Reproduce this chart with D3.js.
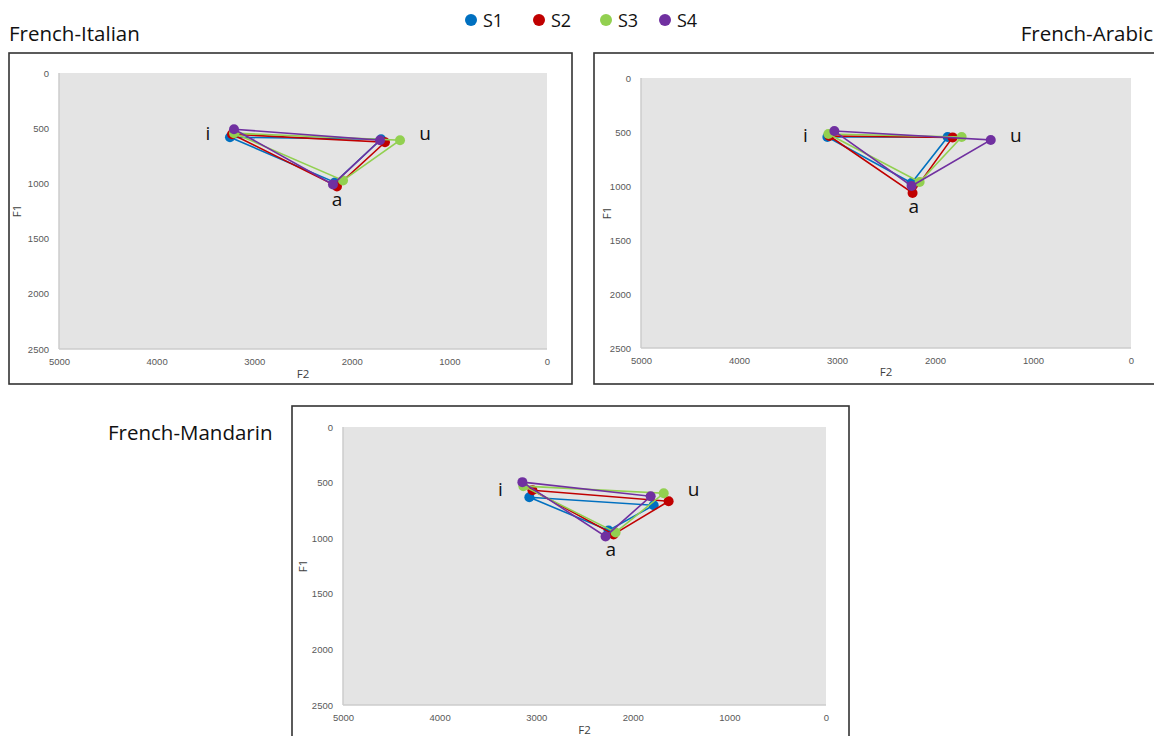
<!DOCTYPE html>
<html>
<head>
<meta charset="utf-8">
<script src="https://cdn.jsdelivr.net/npm/d3@7"></script>
<style>
  body { margin: 0; background: #fff; }
  svg { font-family: "Open Sans", "Liberation Sans", sans-serif; }
  .tick text { fill: #595959; font-size: 9.5px; }
</style>
</head>
<body>
<div id="chart"></div>
<script>
// speakers and vowels
var speakers = ["S1", "S2", "S3", "S4"];
var colors = ["#0070c0", "#c00000", "#92d050", "#7030a0"];
var vowels = ["i", "u", "a"];

var f2Ticks = [5000, 4000, 3000, 2000, 1000, 0];
var f1Ticks = [0, 500, 1000, 1500, 2000, 2500];

// F2 / F1 values per speaker, order i, u, a
var italianF2 = [[3248, 1700, 2172], [3227, 1660, 2152], [3207, 1506, 2090], [3207, 1711, 2193]];
var italianF1 = [[582, 600, 991], [555, 627, 1027], [545, 609, 973], [509, 609, 1009]];

var arabicF2 = [[3098, 1871, 2239], [3078, 1820, 2229], [3088, 1728, 2157], [3027, 1431, 2239]];
var arabicF1 = [[546, 546, 972], [537, 550, 1065], [519, 546, 963], [491, 574, 1000]];

var mandarinF2 = [[3071, 1784, 2251], [3039, 1629, 2199], [3133, 1680, 2178], [3143, 1815, 2282]];
var mandarinF1 = [[632, 704, 930], [569, 668, 966], [532, 596, 948], [496, 623, 984]];

var width = 1154, height = 736;

var svg = d3.select("#chart")
    .append("svg")
    .attr("width", width)
    .attr("height", height);

// legend
var legend = svg.append("g").attr("class", "legend");
var legendX = [471, 539, 606, 665];
speakers.forEach(function(s, k) {
    legend.append("circle")
        .attr("cx", legendX[k])
        .attr("cy", 20)
        .attr("r", 6)
        .attr("fill", colors[k]);
    legend.append("text")
        .attr("x", legendX[k] + 12)
        .attr("y", 27)
        .attr("font-size", 18)
        .attr("fill", "#111")
        .text(s);
});

var panels = [
    { title: "French-Italian", f2: italianF2, f1: italianF1,
      box: [9, 53, 572, 384], plot: [59, 547, 73, 349],
      titleX: 9, titleY: 41, anchor: "start", f1LabX: 21, f2LabY: 378 },
    { title: "French-Arabic", f2: arabicF2, f1: arabicF1,
      box: [594, 53, 1160, 384], plot: [641, 1131, 78, 348],
      titleX: 1153, titleY: 41, anchor: "end", f1LabX: 611, f2LabY: 376 },
    { title: "French-Mandarin", f2: mandarinF2, f1: mandarinF1,
      box: [292, 406, 849, 760], plot: [343, 826, 427, 705],
      titleX: 108, titleY: 440, anchor: "start", f1LabX: 307, f2LabY: 734 }
];

panels.forEach(drawPanel);

function drawPanel(p) {
    var g = svg.append("g");

    g.append("text")
        .attr("x", p.titleX)
        .attr("y", p.titleY)
        .attr("text-anchor", p.anchor)
        .attr("font-size", 20.5)
        .attr("fill", "#111")
        .text(p.title);

    g.append("rect")
        .attr("x", p.box[0])
        .attr("y", p.box[1])
        .attr("width", p.box[2] - p.box[0])
        .attr("height", p.box[3] - p.box[1])
        .attr("fill", "#fff")
        .attr("stroke", "#333")
        .attr("stroke-width", 1.6);

    var xScale = d3.scaleLinear().domain([5000, 0]).range([p.plot[0], p.plot[1]]);
    var yScale = d3.scaleLinear().domain([0, 2500]).range([p.plot[2], p.plot[3]]);

    g.append("rect")
        .attr("x", p.plot[0])
        .attr("y", p.plot[2])
        .attr("width", p.plot[1] - p.plot[0])
        .attr("height", p.plot[3] - p.plot[2])
        .attr("fill", "#e4e4e4");

    // axis lines
    g.append("line")
        .attr("x1", p.plot[0]).attr("x2", p.plot[0])
        .attr("y1", p.plot[2]).attr("y2", p.plot[3])
        .attr("stroke", "#cdcdcd").attr("stroke-width", 1.5);
    g.append("line")
        .attr("x1", p.plot[0]).attr("x2", p.plot[1])
        .attr("y1", p.plot[3]).attr("y2", p.plot[3])
        .attr("stroke", "#cdcdcd").attr("stroke-width", 1.5);

    var xAxis = d3.axisBottom(xScale).tickValues(f2Ticks).tickFormat(d3.format("d"))
        .tickSize(0).tickPadding(9);
    var yAxis = d3.axisLeft(yScale).tickValues(f1Ticks).tickFormat(d3.format("d"))
        .tickSize(0).tickPadding(10);

    g.append("g")
        .attr("transform", "translate(0," + p.plot[3] + ")")
        .call(xAxis)
        .call(function(a) { a.select(".domain").remove(); });
    g.append("g")
        .attr("transform", "translate(" + p.plot[0] + ",0)")
        .call(yAxis)
        .call(function(a) { a.select(".domain").remove(); });

    g.append("text")
        .attr("x", xScale(2500))
        .attr("y", p.f2LabY)
        .attr("text-anchor", "middle")
        .attr("font-size", 11.5)
        .attr("fill", "#404040")
        .text("F2");
    g.append("text")
        .attr("transform", "translate(" + p.f1LabX + "," + yScale(1250) + ")rotate(-90)")
        .attr("text-anchor", "middle")
        .attr("font-size", 11.5)
        .attr("fill", "#404040")
        .text("F1");

    var line = d3.line()
        .x(function(d) { return xScale(d[0]); })
        .y(function(d) { return yScale(d[1]); });

    speakers.forEach(function(s, k) {
        var pts = vowels.map(function(v, j) { return [p.f2[k][j], p.f1[k][j]]; });
        g.append("path")
            .attr("d", line(pts.concat([pts[0]])))
            .attr("fill", "none")
            .attr("stroke", colors[k])
            .attr("stroke-width", 1.6);
        g.selectAll(null)
            .data(pts)
            .enter()
            .append("circle")
            .attr("cx", function(d) { return xScale(d[0]); })
            .attr("cy", function(d) { return yScale(d[1]); })
            .attr("r", 5)
            .attr("fill", colors[k]);
    });

    // vowel labels placed from the extreme points
    var iX = d3.min(p.f2, function(r) { return xScale(r[0]); });
    var iY = d3.mean(p.f1, function(r) { return yScale(r[0]); });
    var uX = d3.max(p.f2, function(r) { return xScale(r[1]); });
    var aX = d3.mean(p.f2, function(r) { return xScale(r[2]); });
    var aY = d3.max(p.f1, function(r) { return yScale(r[2]); });

    var labels = [[iX - 22, iY + 7, "i"], [uX + 25, iY + 7, "u"], [aX, aY + 20, "a"]];
    g.selectAll(null)
        .data(labels)
        .enter()
        .append("text")
        .attr("x", function(d) { return d[0]; })
        .attr("y", function(d) { return d[1]; })
        .attr("text-anchor", "middle")
        .attr("font-size", 19)
        .attr("fill", "#111")
        .text(function(d) { return d[2]; });
}
</script>
</body>
</html>
